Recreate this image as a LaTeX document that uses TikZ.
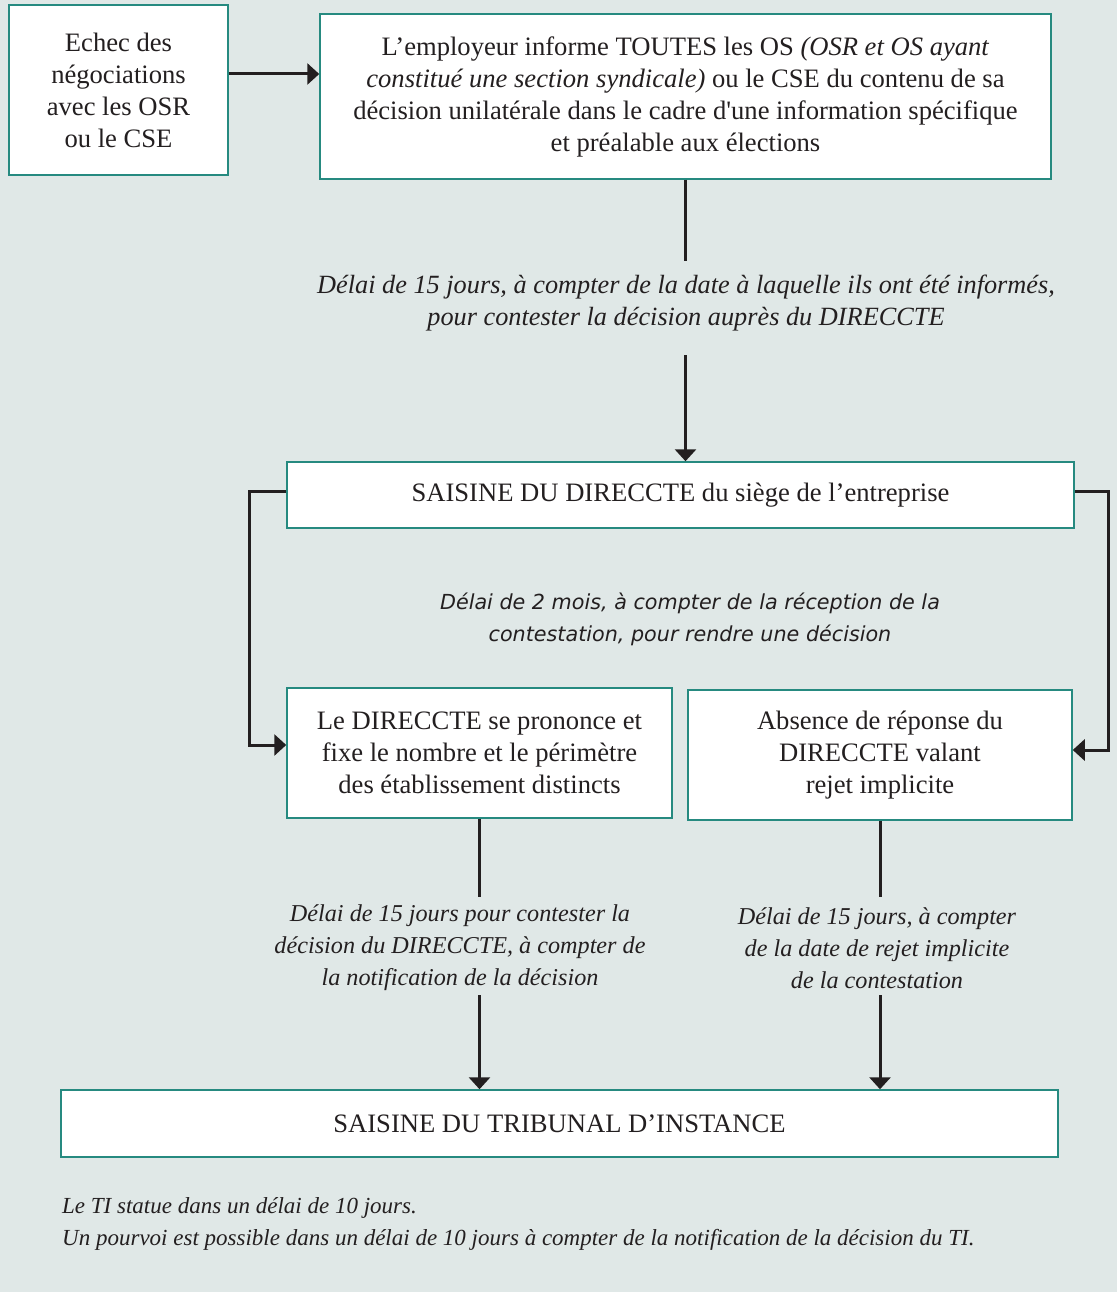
\documentclass[tikz,border=0pt]{standalone}
\usepackage{fontspec}
\setmainfont{Liberation Serif}
\newfontfamily\sansfnt{DejaVu Sans}
\usetikzlibrary{arrows.meta}
\definecolor{fond}{RGB}{224,232,231}
\definecolor{cadre}{RGB}{38,138,128}
\definecolor{encre}{RGB}{35,31,32}

\begin{document}
\begin{tikzpicture}[x=1pt,y=-1pt,
    boite/.style={draw=cadre,line width=1.5pt,fill=white,align=center,inner sep=0pt,
      text=encre,font=\fontsize{26.6}{32}\selectfont},
    delai/.style={align=center,inner sep=0pt,text=encre,font=\fontsize{24.2}{32}\selectfont\itshape},
    trait/.style={draw=encre,line width=3pt},
    fleche/.style={trait,-{Triangle[length=12pt,width=21pt]}}]

    \fill[fond] (0,0) rectangle (1117,1292);
    \useasboundingbox (0,0) rectangle (1117,1292);

    \node[boite,minimum width=219pt,minimum height=170pt] (echec) at (118.5,90) {Echec des\\ négociations\\ avec les OSR\\ ou le CSE};
    \node[boite,minimum width=731pt,minimum height=165pt] (empl) at (685.5,96.5) {L’employeur informe TOUTES les OS \textit{(OSR et OS ayant}\\ \textit{constitué une section syndicale)} ou le CSE du contenu de sa\\ décision unilatérale dans le cadre d\textquotesingle une information spécifique\\ et préalable aux élections};
    \node[boite,minimum width=787pt,minimum height=66pt] (sais) at (680.5,495) {SAISINE DU DIRECCTE du siège de l’entreprise};
    \node[boite,minimum width=385pt,minimum height=130pt] (dir) at (479.5,753) {Le DIRECCTE se prononce et\\ fixe le nombre et le périmètre\\ des établissement distincts};
    \node[boite,minimum width=384pt,minimum height=130pt] (abs) at (880,755) {Absence de réponse du\\ DIRECCTE valant\\ rejet implicite};
    \node[boite,minimum width=997pt,minimum height=67pt] (ti) at (559.5,1123.5) {SAISINE DU TRIBUNAL D’INSTANCE};

    \node[delai,font=\fontsize{26.3}{32}\selectfont\itshape] (d1) at (686,303) {Délai de 15 jours, à compter de la date à laquelle ils ont été informés,\\ pour contester la décision auprès du DIRECCTE};
    \node[delai,font=\fontsize{20.7}{32}\selectfont\sansfnt\itshape] (d2) at (690,619) {Délai de 2 mois, à compter de la réception de la\\ contestation, pour rendre une décision};
    \node[delai] (d3) at (460,948) {Délai de 15 jours pour contester la\\ décision du DIRECCTE, à compter de\\ la notification de la décision};
    \node[delai] (d4) at (877,948) {Délai de 15 jours, à compter\\ de la date de rejet implicite\\ de la contestation};
    \node[delai,align=left,anchor=west,font=\fontsize{23}{32}\selectfont\itshape] (note) at (62,1224) {Le TI statue dans un délai de 10 jours.\\ Un pourvoi est possible dans un délai de 10 jours à compter de la notification de la décision du TI.};

    \draw[fleche] (echec.east |- 0,74) -- (empl.west |- 0,74);
    \draw[trait] (empl.south) -- ++(0,81);
    \draw[fleche] (empl.south |- 0,355) -- (sais.north -| empl.south);
    \draw[fleche] ([yshift=4pt]sais.west) -- ++(-37,0) |- ([yshift=8pt]dir.west);
    \draw[fleche] ([yshift=4pt]sais.east) -- ++(34,0) |- ([yshift=5pt]abs.east);
    \draw[trait] (dir.south) -- ++(0,78);
    \draw[fleche] (dir.south |- 0,995) -- (ti.north -| dir.south);
    \draw[trait] (abs.south) -- ++(0,76);
    \draw[fleche] (abs.south |- 0,995) -- (ti.north -| abs.south);

  \end{tikzpicture}
\end{document}
